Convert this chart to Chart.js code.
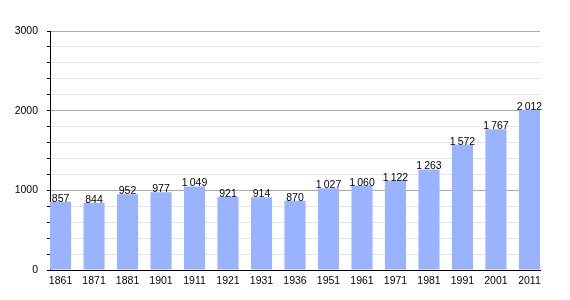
<!DOCTYPE html>
<html>
<head>
<meta charset="utf-8">
<script src="https://cdn.jsdelivr.net/npm/chart.js@4/dist/chart.umd.min.js"></script>
<style>
  html, body { margin: 0; padding: 0; background: #fff; }
  #wrap { width: 570px; height: 300px; }
</style>
</head>
<body>
<div id="wrap"><canvas id="popChart"></canvas></div>
<script>
const years = ['1861', '1871', '1881', '1901', '1911', '1921', '1931', '1936', '1951', '1961', '1971', '1981', '1991', '2001', '2011'];
const population = [857, 844, 952, 977, 1049, 921, 914, 870, 1027, 1060, 1122, 1263, 1572, 1767, 2012];
const yTicks = [0, 1000, 2000, 3000];

const barColor = '#99b3ff';
const barPct = 0.63;

function formatPop(v) {
    if (v < 1000) return String(v);
    return Math.floor(v / 1000) + '\u2009' + String(v % 1000).padStart(3, '0');
}

// value labels above each bar
const valueLabels = {
    id: 'valueLabels',
    afterDatasetsDraw(chart) {
        const ctx = chart.ctx;
        const meta = chart.getDatasetMeta(0);
        ctx.save();
        ctx.font = '10.5px "Liberation Sans", Arial, sans-serif';
        ctx.fillStyle = '#000';
        ctx.textAlign = 'center';
        ctx.textBaseline = 'alphabetic';
        meta.data.forEach((bar, i) => {
            ctx.fillText(formatPop(population[i]), bar.x, bar.y);
        });
        ctx.restore();
    }
};

const ctx = document.getElementById('popChart').getContext('2d');
new Chart(ctx, {
    type: 'bar',
    data: {
        datasets: [{
            data: population.map((v, i) => ({ x: i, y: v })),
            backgroundColor: barColor,
            borderWidth: 0,
            categoryPercentage: 1,
            barPercentage: barPct
        }]
    },
    options: {
        responsive: true,
        maintainAspectRatio: false,
        animation: false,
        layout: { padding: { top: 31, right: 30, left: 0, bottom: 0 } },
        plugins: {
            legend: { display: false },
            tooltip: { enabled: false }
        },
        scales: {
            x: {
                type: 'linear',
                offset: false,
                min: -barPct / 2,
                max: years.length - 1 + barPct / 2,
                grid: { display: false },
                border: { color: '#000', width: 1 },
                ticks: {
                    stepSize: 1,
                    includeBounds: false,
                    autoSkip: false,
                    maxRotation: 0,
                    padding: -3,
                    color: '#000',
                    font: { family: '"Liberation Sans", Arial, sans-serif', size: 10.5 },
                    callback: v => years[v] ?? ''
                },
                afterFit: s => { s.height = 30; }
            },
            y: {
                min: 0,
                max: 3000,
                grid: {
                    color: c => (c.tick && c.tick.value % 1000 === 0) ? '#aaaaaa' : '#e6e6e6',
                    tickColor: '#000',
                    tickLength: 3
                },
                border: { color: '#000', width: 1 },
                ticks: {
                    stepSize: 200,
                    autoSkip: false,
                    padding: 9,
                    color: '#000',
                    font: { family: '"Liberation Sans", Arial, sans-serif', size: 10.5 },
                    callback: v => yTicks.includes(v) ? String(v) : ''
                },
                afterFit: s => { s.width = 50; }
            }
        }
    },
    plugins: [valueLabels]
});
</script>
</body>
</html>
